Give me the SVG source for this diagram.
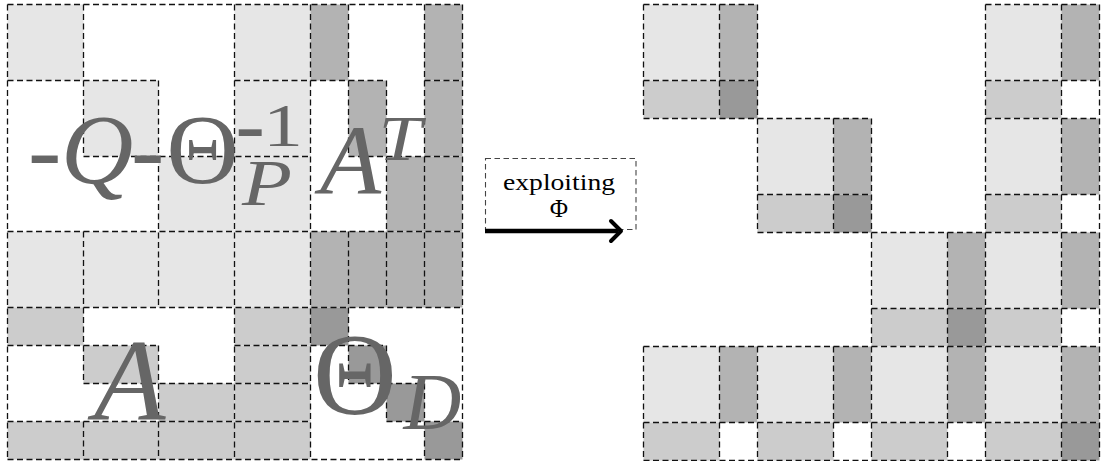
<svg xmlns="http://www.w3.org/2000/svg" width="1103" height="461" viewBox="0 0 1103 461">
<style>
.l{fill:#e6e6e6}
.m{fill:#b3b3b3}
.c{fill:#cccccc}
.d{fill:#999999}
.b{fill:none;stroke:#111;stroke-width:1.3;stroke-dasharray:6 3.5}
.bx{fill:none;stroke:#444;stroke-width:1.1;stroke-dasharray:5.5 3.5}
.t{font-family:"Liberation Serif","Times New Roman",serif;fill:#666666}
.ti{font-family:"Liberation Serif","Times New Roman",serif;font-style:italic;fill:#666666}
.k{font-family:"Liberation Serif","Times New Roman",serif;fill:#000000}
</style>
<defs>
<marker id="ah" markerUnits="userSpaceOnUse" markerWidth="24" markerHeight="30" viewBox="0 0 24 30" refX="11" refY="15" orient="auto">
<path d="M4,5 L14,15 L4,25" fill="none" stroke="#000" stroke-width="4" stroke-linecap="round" stroke-linejoin="round"/>
</marker>
<g id="bfd"><rect class="l" x="0" y="0" width="76" height="76"/><rect class="m" x="76" y="0" width="38" height="76"/><rect class="c" x="0" y="76" width="76" height="38"/><rect class="d" x="76" y="76" width="38" height="38"/></g>
<g id="bfo"><rect class="l" x="0" y="0" width="76" height="76"/><rect class="m" x="76" y="0" width="38" height="76"/><rect class="c" x="0" y="76" width="76" height="38"/></g>
</defs>
<rect width="1103" height="461" fill="#ffffff"/>

<g id="left-matrix">
<g id="left-fills">
<g class="l">
<rect x="7.5" y="4.5" width="76" height="76"/>
<rect x="234.5" y="4.5" width="76" height="76"/>
<rect x="83.5" y="80.5" width="75" height="76"/>
<rect x="234.5" y="80.5" width="76" height="76"/>
<rect x="158.5" y="156.5" width="76" height="75"/>
<rect x="234.5" y="156.5" width="76" height="75"/>
<rect x="7.5" y="231.5" width="303" height="76"/>
</g>
<g class="m">
<rect x="310.5" y="4.5" width="38" height="76"/>
<rect x="424.5" y="4.5" width="38" height="76"/>
<rect x="348.5" y="80.5" width="38" height="76"/>
<rect x="424.5" y="80.5" width="38" height="76"/>
<rect x="386.5" y="156.5" width="76" height="75"/>
<rect x="310.5" y="231.5" width="152" height="76"/>
</g>
<g class="c">
<rect x="7.5" y="307.5" width="76" height="38"/>
<rect x="234.5" y="307.5" width="76" height="38"/>
<rect x="83.5" y="345.5" width="75" height="38"/>
<rect x="234.5" y="345.5" width="76" height="38"/>
<rect x="158.5" y="383.5" width="76" height="38"/>
<rect x="234.5" y="383.5" width="76" height="38"/>
<rect x="7.5" y="421.5" width="303" height="38"/>
</g>
<g class="d">
<rect x="310.5" y="307.5" width="38" height="38"/>
<rect x="348.5" y="345.5" width="38" height="38"/>
<rect x="386.5" y="383.5" width="38" height="38"/>
<rect x="424.5" y="421.5" width="38" height="38"/>
</g>
</g>
<g id="left-borders" class="b">
<path d="M7.5,4.5 H462.5 M7.5,80.5 H158.5 M234.5,80.5 H386.5 M424.5,80.5 H462.5 M83.5,156.5 H310.5 M348.5,156.5 H462.5 M7.5,231.5 H462.5 M7.5,307.5 H462.5 M7.5,345.5 H158.5 M234.5,345.5 H386.5 M83.5,383.5 H310.5 M348.5,383.5 H424.5 M7.5,421.5 H310.5 M386.5,421.5 H462.5 M7.5,459.5 H462.5"/>
<path d="M7.5,4.5 V459.5 M83.5,4.5 V156.5 M83.5,231.5 V383.5 M83.5,421.5 V459.5 M158.5,80.5 V307.5 M158.5,345.5 V459.5 M234.5,4.5 V459.5 M310.5,4.5 V459.5 M348.5,4.5 V156.5 M348.5,231.5 V383.5 M386.5,80.5 V307.5 M386.5,345.5 V421.5 M424.5,4.5 V307.5 M424.5,383.5 V459.5 M462.5,4.5 V459.5"/>
</g>
<g id="left-labels">
<text class="t" x="28" y="183" font-size="100">-</text>
<text class="ti" x="61" y="183" font-size="100">Q</text>
<text class="t" x="131" y="183" font-size="100">-</text>
<text class="t" x="166.5" y="183" font-size="100">Θ</text>
<text class="t" x="235.5" y="154" font-size="88">-</text>
<text class="t" x="263" y="146" font-size="62" textLength="40" lengthAdjust="spacingAndGlyphs">1</text>
<text class="ti" x="242" y="205" font-size="65" textLength="50" lengthAdjust="spacingAndGlyphs">P</text>
<text class="ti" x="320" y="194" font-size="100">A</text>
<text class="ti" x="378.5" y="160" font-size="64" textLength="43" lengthAdjust="spacingAndGlyphs">T</text>
<text class="ti" x="94" y="420" font-size="117">A</text>
<text class="t" x="313" y="413.5" font-size="116">Θ</text>
<text class="ti" x="403.5" y="429" font-size="80">D</text>
</g>
</g>

<g id="connectors">
<rect id="exploit-box" class="bx" x="485.5" y="158.5" width="150.5" height="71"/>
<text class="k" x="503" y="190" font-size="24" textLength="112" lengthAdjust="spacingAndGlyphs">exploiting</text>
<text class="k" x="559" y="217" font-size="25" text-anchor="middle">Φ</text>
<path id="arrow" d="M485,231 H618" stroke="#000" stroke-width="4.5" fill="none" marker-end="url(#ah)"/>
</g>

<g id="right-matrix">
<g id="right-fills">
<use href="#bfd" x="643.5" y="4.5"/>
<use href="#bfo" x="985.5" y="4.5"/>
<use href="#bfd" x="757.5" y="118.5"/>
<use href="#bfo" x="985.5" y="118.5"/>
<use href="#bfd" x="871.5" y="232.5"/>
<use href="#bfo" x="985.5" y="232.5"/>
<use href="#bfo" x="643.5" y="346.5"/>
<use href="#bfo" x="757.5" y="346.5"/>
<use href="#bfo" x="871.5" y="346.5"/>
<use href="#bfd" x="985.5" y="346.5"/>
</g>
<g id="right-borders" class="b">
<path d="M643.5,4.5 H757.5 M985.5,4.5 H1099.5 M643.5,80.5 H757.5 M985.5,80.5 H1099.5 M643.5,118.5 H871.5 M985.5,118.5 H1099.5 M757.5,194.5 H871.5 M985.5,194.5 H1099.5 M757.5,232.5 H1099.5 M871.5,308.5 H1099.5 M643.5,346.5 H1099.5 M643.5,422.5 H1099.5 M643.5,460.5 H1099.5"/>
<path d="M643.5,4.5 V118.5 M643.5,346.5 V460.5 M719.5,4.5 V118.5 M719.5,346.5 V460.5 M757.5,4.5 V232.5 M757.5,346.5 V460.5 M833.5,118.5 V232.5 M833.5,346.5 V460.5 M871.5,118.5 V460.5 M947.5,232.5 V460.5 M985.5,4.5 V460.5 M1061.5,4.5 V460.5 M1099.5,4.5 V460.5"/>
</g>
</g>
</svg>
